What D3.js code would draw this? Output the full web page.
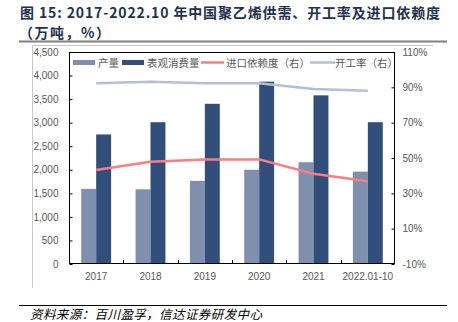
<!DOCTYPE html>
<html><head><meta charset="utf-8">
<script src="https://cdn.jsdelivr.net/npm/d3@7"></script>
<style>
html,body{margin:0;padding:0;background:#fff;}
svg{display:block;}
</style></head>
<body>
<svg id="chart" width="458" height="322"></svg>
<script>
const categories = ["2017","2018","2019","2020","2021","2022.01-10"];
const production = [1595, 1585, 1765, 2000, 2160, 1960];          // 产量 (万吨)
const consumption = [2750, 3010, 3400, 3870, 3580, 3010];         // 表观消费量 (万吨)
const importDependence = [43.2, 47.9, 49.2, 49.2, 41.1, 36.8];    // 进口依赖度 (%)
const operatingRate = [92.3, 93.2, 92.3, 92.3, 89.1, 88.1];       // 开工率 (%)
const leftTicks = [0,500,1000,1500,2000,2500,3000,3500,4000,4500];
const rightTicks = [-10,10,30,50,70,90,110];
const seriesNames = ["产量","表观消费量","进口依赖度（右）","开工率（右）"];

const svg = d3.select("#chart");
const L = 69, R = 395, T = 52, B = 264;
const font = "'Liberation Sans', Arial, sans-serif";
const cjk = "'Noto Sans CJK SC', sans-serif";
const cLight = "#7f90ae", cDark = "#324f7c", cRed = "#ff7c80", cGray = "#b3bfd4";

// Title
svg.append("text").attr("x",20).attr("y",17.5).attr("font-family",cjk).attr("font-size",14)
  .attr("font-weight","bold").attr("fill","#22314f")
  .attr("textLength",420).attr("lengthAdjust","spacing")
  .text("图 15: 2017-2022.10 年中国聚乙烯供需、开工率及进口依赖度");
svg.append("text").attr("x",19).attr("y",38).attr("font-family",cjk).attr("font-size",14)
  .attr("font-weight","bold").attr("fill","#22314f").attr("letter-spacing",1.5).text("（万吨，%）");
svg.append("line").attr("x1",19).attr("x2",447).attr("y1",41.5).attr("y2",41.5)
  .attr("stroke","#7f7f7f").attr("stroke-width",2);
// chart area border fragments
svg.append("line").attr("x1",32).attr("x2",433).attr("y1",45.5).attr("y2",45.5).attr("stroke","#c8c8c8");
svg.append("line").attr("x1",32.5).attr("x2",32.5).attr("y1",45).attr("y2",288).attr("stroke","#c8c8c8");

// Footer
svg.append("line").attr("x1",19).attr("x2",447).attr("y1",305.5).attr("y2",305.5).attr("stroke","#000").attr("stroke-width",1);
svg.append("text").attr("x",30).attr("y",319).attr("font-family",cjk).attr("font-size",12.5)
  .attr("font-style","italic").attr("fill","#000").attr("textLength",232).attr("lengthAdjust","spacing")
  .text("资料来源：百川盈孚，信达证券研发中心");

// Scales
const x = d3.scaleBand().domain(categories).range([L,R]).padding(0);
const bw = x.bandwidth();
const xs = d3.scaleBand().domain(["p","c"]).range([bw*0.225, bw*0.775]).padding(0);
const yL = d3.scaleLinear().domain([0,4500]).range([B,T]);
const yR = d3.scaleLinear().domain([-10,110]).range([B,T]);

// Bars
const g = svg.append("g");
g.selectAll("rect.p").data(production).join("rect")
  .attr("x",(d,i)=>x(categories[i])+xs("p")).attr("width",xs.bandwidth())
  .attr("y",d=>yL(d)).attr("height",d=>yL(0)-yL(d)).attr("fill",cLight);
g.selectAll("rect.c").data(consumption).join("rect")
  .attr("x",(d,i)=>x(categories[i])+xs("c")).attr("width",xs.bandwidth())
  .attr("y",d=>yL(d)).attr("height",d=>yL(0)-yL(d)).attr("fill",cDark);

// Lines
const cx = i => x(categories[i]) + bw/2;
const lineR = d3.line().x((d,i)=>cx(i)).y(d=>yR(d));
svg.append("path").datum(operatingRate).attr("d",lineR).attr("fill","none")
  .attr("stroke",cGray).attr("stroke-width",2.5).attr("stroke-linejoin","round");
svg.append("path").datum(importDependence).attr("d",lineR).attr("fill","none")
  .attr("stroke",cRed).attr("stroke-width",2.5).attr("stroke-linejoin","round");

// Frame
svg.append("rect").attr("x",L+0.5).attr("y",T+0.5).attr("width",R-L-1).attr("height",B-T-1)
  .attr("fill","none").attr("stroke","#000").attr("stroke-width",1);

// Axes
const axL = svg.append("g").attr("transform",`translate(${L+0.5},0)`)
  .call(d3.axisLeft(yL).tickValues(leftTicks).tickSize(-3).tickPadding(11).tickFormat(d3.format(",")));
const axR = svg.append("g").attr("transform",`translate(${R-0.5},0)`)
  .call(d3.axisRight(yR).tickValues(rightTicks).tickSize(-3).tickPadding(8).tickFormat(d=>d+"%"));
const axB = svg.append("g").attr("transform",`translate(0,${B})`)
  .call(d3.axisBottom(x).tickSize(0).tickPadding(9));
[axL,axR,axB].forEach(a=>{
  a.select(".domain").remove();
  a.selectAll("text").attr("font-family",font).attr("font-size",10).attr("fill","#595959");
  a.selectAll("line").attr("stroke","#000");
});
// category boundary ticks
svg.append("g").selectAll("line").data(categories.slice(1)).join("line")
  .attr("x1",d=>Math.round(x(d))+0.5).attr("x2",d=>Math.round(x(d))+0.5)
  .attr("y1",B).attr("y2",B-4).attr("stroke","#000");

// Legend
const lg = svg.append("g").attr("font-family",cjk).attr("font-size",10.5).attr("fill","#595959");
const items = [
  {x:73, w:22, type:"rect", color:cLight, tx:98},
  {x:122, w:22, type:"rect", color:cDark, tx:147},
  {x:201, w:23, type:"line", color:cRed, tx:226},
  {x:310, w:25, type:"line", color:cGray, tx:335}
];
items.forEach((it,i)=>{
  if(it.type==="rect") lg.append("rect").attr("x",it.x).attr("y",60).attr("width",it.w).attr("height",5).attr("fill",it.color);
  else lg.append("line").attr("x1",it.x).attr("x2",it.x+it.w).attr("y1",62.5).attr("y2",62.5).attr("stroke",it.color).attr("stroke-width",2.5);
  lg.append("text").attr("x",it.tx).attr("y",66.5).text(seriesNames[i]);
});
</script>
</body></html>
